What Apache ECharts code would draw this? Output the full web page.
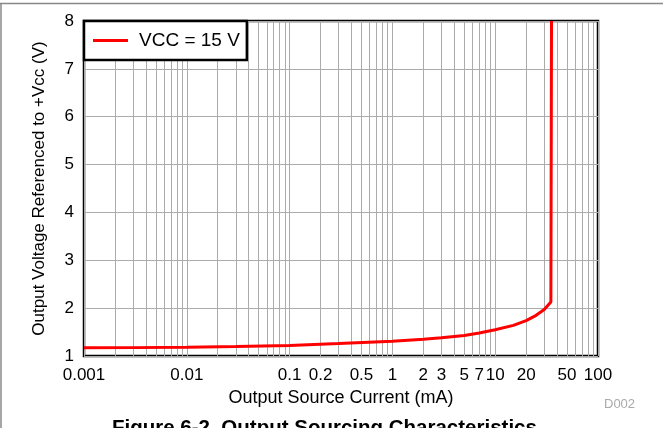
<!DOCTYPE html>
<html>
<head>
<meta charset="utf-8">
<script src="https://cdn.jsdelivr.net/npm/echarts@6/dist/echarts.min.js"></script>
<style>
html,body{margin:0;padding:0;background:#fff;}
#chart{width:663px;height:428px;}
</style>
</head>
<body>
<div id="chart"></div>
<script>
// Output source current (mA)
var current = [0.001, 0.003, 0.01, 0.03, 0.1, 0.3, 1, 2, 3, 5, 7, 10, 15, 20, 25, 30, 34.8, 35.3];
// Output voltage referenced to +Vcc (V)
var voltage = [1.17, 1.175, 1.185, 1.2, 1.22, 1.26, 1.31, 1.35, 1.38, 1.43, 1.48, 1.55, 1.64, 1.74, 1.85, 1.97, 2.13, 8];
var xTickLabels = [0.001, 0.01, 0.1, 0.2, 0.5, 1, 2, 3, 5, 7, 10, 20, 50, 100];
var xGridValues = [];
[0.001, 0.01, 0.1, 1, 10].forEach(function (d) {
  for (var k = 1; k <= 9; k++) xGridValues.push(+(d * k).toPrecision(3));
});
xGridValues.push(100);
var yTicks = [1, 2, 3, 4, 5, 6, 7, 8];
var seriesName = 'VCC = 15 V';

var chart = echarts.init(document.getElementById('chart'));
var font = 'Liberation Sans, Arial, Helvetica, sans-serif';
chart.setOption({
  animation: false,
  grid: {left: 84, right: 65, top: 21, bottom: 72, show: true, borderColor: '#000', borderWidth: 2.5, backgroundColor: 'transparent'},
  legend: {
    left: 84, top: 21, orient: 'horizontal',
    backgroundColor: '#fff', borderColor: '#000', borderWidth: 2.5, borderRadius: 0,
    padding: [10, 7, 10, 9], itemWidth: 35, itemHeight: 3, itemGap: 5,
    icon: 'rect',
    textStyle: {fontFamily: font, fontSize: 19, color: '#000', padding: [0, 0, 0, 6]},
    data: [seriesName]
  },
  xAxis: {
    type: 'log', logBase: 10, min: 0.001, max: 100,
    name: 'Output Source Current (mA)', nameLocation: 'middle', nameGap: 33,
    nameTextStyle: {fontFamily: font, fontSize: 18, color: '#000'},
    axisLine: {show: false},
    axisTick: {show: false, customValues: xGridValues},
    axisLabel: {customValues: xTickLabels, margin: 11, fontFamily: font, fontSize: 17, color: '#000',
      formatter: function (v) { return String(+v.toPrecision(3)); }},
    splitLine: {show: true, lineStyle: {color: '#ababab', width: 1}},
    minorSplitLine: {show: false}
  },
  yAxis: {
    type: 'value', min: 1, max: 8, interval: 1,
    data: yTicks,
    name: 'Output Voltage Referenced to +Vcc (V)', nameLocation: 'middle', nameGap: 36,
    nameTextStyle: {fontFamily: font, fontSize: 17, color: '#000'},
    axisLine: {show: false}, axisTick: {show: false},
    axisLabel: {margin: 10, fontFamily: font, fontSize: 17, color: '#000'},
    splitLine: {show: true, lineStyle: {color: '#ababab', width: 1}}
  },
  series: [{
    name: seriesName, type: 'line', showSymbol: false, symbol: 'none',
    data: current.map(function (c, i) { return [c, voltage[i]]; }),
    lineStyle: {color: '#ff0000', width: 3}, itemStyle: {color: '#ff0000'}
  }],
  graphic: [
    {type: 'line', shape: {x1: 0, y1: 3.5, x2: 663, y2: 3.5}, style: {stroke: '#888', lineWidth: 1.5}, silent: true},
    {type: 'line', shape: {x1: 1, y1: 3.5, x2: 1, y2: 428}, style: {stroke: '#888', lineWidth: 1.5}, silent: true},
    {type: 'text', left: 604, top: 398, style: {text: 'D002', fill: '#aaa', font: '13px ' + font}},
    {type: 'text', left: 112, top: 418, style: {text: 'Figure 6-2. Output Sourcing Characteristics', fill: '#000', font: 'bold 20.5px ' + font}}
  ]
});
</script>
</body>
</html>
